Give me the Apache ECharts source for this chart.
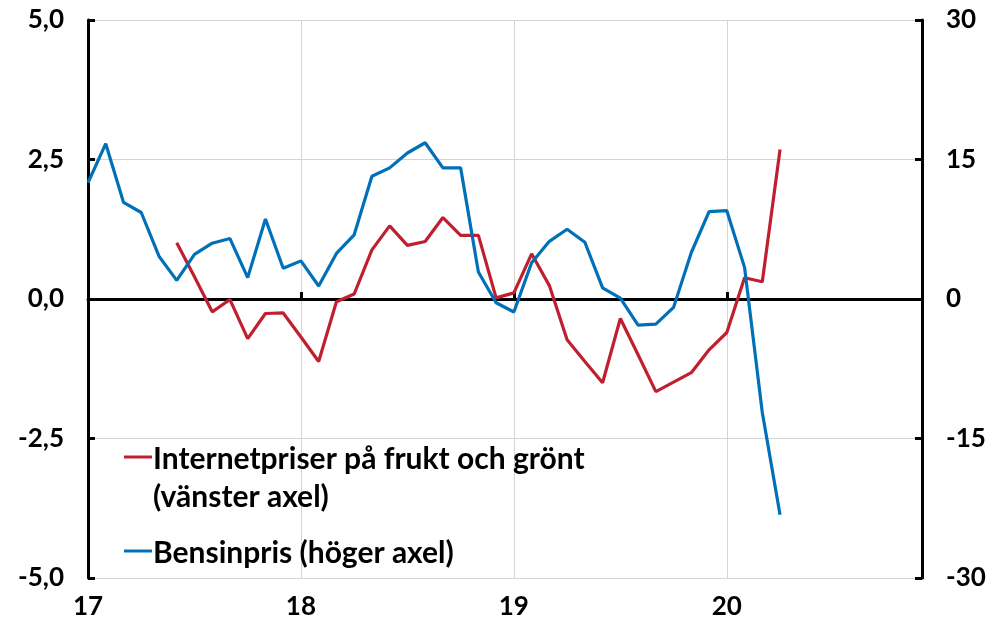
<!DOCTYPE html>
<html>
<head>
<meta charset="utf-8">
<script src="https://cdn.jsdelivr.net/npm/echarts@6/dist/echarts.min.js"></script>
<style>
html,body{margin:0;padding:0;background:#fff;}
#chart{width:999px;height:625px;}
</style>
</head>
<body>
<div id="chart"></div>
<script>
// Months Jan 2017 .. Dec 2020
const categories = [
  '17-01','17-02','17-03','17-04','17-05','17-06','17-07','17-08','17-09','17-10','17-11','17-12',
  '18-01','18-02','18-03','18-04','18-05','18-06','18-07','18-08','18-09','18-10','18-11','18-12',
  '19-01','19-02','19-03','19-04','19-05','19-06','19-07','19-08','19-09','19-10','19-11','19-12',
  '20-01','20-02','20-03','20-04','20-05','20-06','20-07','20-08','20-09','20-10','20-11','20-12'
];
// Internetpriser på frukt och grönt (vänster axel)
const fruitPrices = [
  null, null, null, null, null, 1.01, 0.40, -0.23, -0.01, -0.71, -0.26, -0.25,
  -0.68, -1.12, -0.05, 0.09, 0.88, 1.31, 0.96, 1.03, 1.46, 1.14, 1.14, 0.02,
  0.11, 0.81, 0.24, -0.73, -1.12, -1.50, -0.35, -1.00, -1.66, -1.49, -1.32, -0.91,
  -0.60, 0.38, 0.31, 2.68
];
// Bensinpris (höger axel)
const petrolPrice = [
  12.5, 16.7, 10.4, 9.3, 4.6, 2.0, 4.8, 6.0, 6.5, 2.3, 8.6, 3.3,
  4.1, 1.4, 4.9, 6.9, 13.2, 14.1, 15.7, 16.8, 14.1, 14.1, 2.9, -0.4,
  -1.4, 3.9, 6.2, 7.5, 6.1, 1.2, 0.1, -2.8, -2.7, -0.9, 5.0, 9.4,
  9.5, 3.4, -12.2, -23.2
];
const leftTicks = {min: -5, max: 5, interval: 2.5};
const rightTicks = {min: -30, max: 30, interval: 15};
const seriesNames = ['Internetpriser på frukt och grönt', '(vänster axel)', 'Bensinpris (höger axel)'];

const RED = '#c01f30';
const BLUE = '#0070b8';
const FONT = 'Lato';
const labelStyle = {fontFamily: FONT, fontWeight: 'bold', fontSize: 26, color: '#000'};
const legendText = {fontFamily: FONT, fontWeight: 'bold', fontSize: 30, fill: '#000', verticalAlign: 'middle', align: 'left'};

const chart = echarts.init(document.getElementById('chart'));
chart.setOption({
  animation: false,
  backgroundColor: '#fff',
  grid: {left: 88, right: 77, top: 20, bottom: 47, containLabel: false},
  xAxis: [
    {
      type: 'category', data: categories, boundaryGap: false, position: 'bottom',
      axisLine: {show: false, onZero: false},
      axisTick: {show: false},
      axisLabel: Object.assign({
        interval: 11, margin: 16,
        formatter: v => v.slice(0, 2)
      }, labelStyle),
      splitLine: {show: true, interval: 11, lineStyle: {color: '#d4d4d4', width: 1}}
    },
    {
      type: 'category', data: categories, boundaryGap: false, position: 'bottom',
      axisLine: {show: true, onZero: true, onZeroAxisIndex: 0, lineStyle: {color: '#000', width: 3}},
      axisTick: {show: true, inside: true, interval: 11, length: 7, lineStyle: {color: '#000', width: 3}},
      axisLabel: {show: false},
      splitLine: {show: false}
    }
  ],
  yAxis: [
    {
      type: 'value', position: 'left',
      min: leftTicks.min, max: leftTicks.max, interval: leftTicks.interval,
      axisLine: {show: true, onZero: false, lineStyle: {color: '#000', width: 3}},
      axisTick: {show: true, inside: true, length: 7, lineStyle: {color: '#000', width: 3}},
      axisLabel: Object.assign({margin: 24, formatter: v => v.toFixed(1).replace('.', ',')}, labelStyle),
      splitLine: {show: true, lineStyle: {color: '#d4d4d4', width: 1}}
    },
    {
      type: 'value', position: 'right',
      min: rightTicks.min, max: rightTicks.max, interval: rightTicks.interval,
      axisLine: {show: true, onZero: false, lineStyle: {color: '#000', width: 3}},
      axisTick: {show: true, inside: true, length: 7, lineStyle: {color: '#000', width: 3}},
      axisLabel: Object.assign({margin: 24}, labelStyle),
      splitLine: {show: false}
    }
  ],
  series: [
    {
      name: seriesNames[0], type: 'line', xAxisIndex: 0, yAxisIndex: 0,
      data: fruitPrices, showSymbol: false, symbol: 'none', connectNulls: false,
      lineStyle: {color: RED, width: 3.2}, itemStyle: {color: RED}, z: 3
    },
    {
      name: seriesNames[2], type: 'line', xAxisIndex: 0, yAxisIndex: 1,
      data: petrolPrice, showSymbol: false, symbol: 'none',
      lineStyle: {color: BLUE, width: 3.2}, itemStyle: {color: BLUE}, z: 4
    }
  ],
  graphic: [
    {type: 'line', shape: {x1: 124, y1: 457, x2: 152, y2: 457}, style: {stroke: RED, lineWidth: 3}, z: 10},
    {type: 'text', x: 153, y: 459, style: Object.assign({text: seriesNames[0]}, legendText), z: 10},
    {type: 'text', x: 153, y: 497, style: Object.assign({text: seriesNames[1]}, legendText), z: 10},
    {type: 'line', shape: {x1: 124, y1: 551, x2: 152, y2: 551}, style: {stroke: BLUE, lineWidth: 3}, z: 10},
    {type: 'text', x: 153, y: 553, style: Object.assign({text: seriesNames[2]}, legendText), z: 10}
  ]
});
</script>
</body>
</html>
